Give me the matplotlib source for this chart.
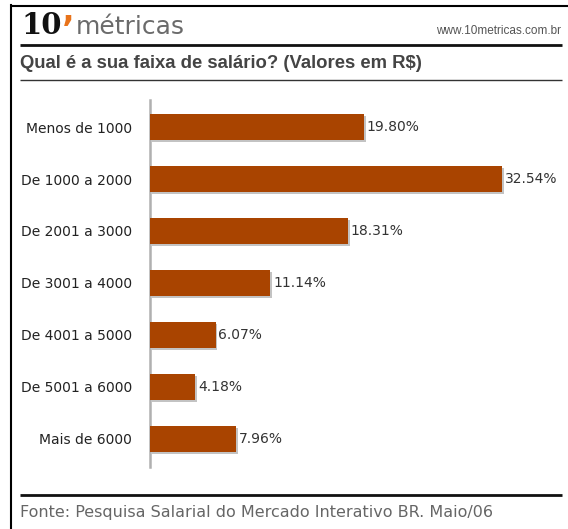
import matplotlib.pyplot as plt
import matplotlib.patheffects as pe
from matplotlib.lines import Line2D

# salary ranges and share of respondents (%)
faixas = ['Menos de 1000', 'De 1000 a 2000', 'De 2001 a 3000', 'De 3001 a 4000',
          'De 4001 a 5000', 'De 5001 a 6000', 'Mais de 6000']
percentuais = [19.80, 32.54, 18.31, 11.14, 6.07, 4.18, 7.96]

W, H = 568, 529
BAR_COLOR = '#a94400'


def fx(x):
    return x / W


def fy(y):
    return 1 - y / H


def hline(fig, y, x0, x1, color, lw):
    fig.add_artist(Line2D([fx(x0), fx(x1)], [fy(y), fy(y)], color=color, lw=lw,
                          transform=fig.transFigure, solid_capstyle='butt'))


def make_chart():
    fig = plt.figure(figsize=(W / 100, H / 100), dpi=100)
    fig.set_facecolor('white')

    # frame on the left and top
    fig.add_artist(Line2D([fx(11), fx(11)], [fy(5), 0], color='black', lw=1.5,
                          transform=fig.transFigure))
    hline(fig, 5.5, 11, W, 'black', 1.5)

    # logo
    fig.text(fx(21), fy(26), '10', fontsize=21, fontweight='black', color='#111111',
             family='DejaVu Serif', va='center', ha='left')
    fig.text(fx(62), fy(30), '\u2019', fontsize=24, fontweight='bold', color='#e8731a',
             family='DejaVu Sans', va='center', ha='left')
    fig.text(fx(76), fy(27), 'métricas', fontsize=18, color='#6b6b6b',
             family='DejaVu Sans', va='center', ha='left')
    fig.text(fx(561), fy(31), 'www.10metricas.com.br', fontsize=8.5, color='#555555',
             family='Liberation Sans', va='center', ha='right')
    hline(fig, 45, 20, 562, '#111111', 2)

    # title
    fig.text(fx(20), fy(63), 'Qual é a sua faixa de salário? (Valores em R$)',
             fontsize=13.3, fontweight='bold', color='#444444',
             family='Liberation Sans', va='center', ha='left')
    hline(fig, 80, 20, 562, '#333333', 1)

    # bar chart area: x from 150 px, y from 100 to 467 px
    ax = fig.add_axes([fx(150), fy(467), fx(561) - fx(150), (467 - 100) / H])
    pos = list(range(len(faixas)))
    bars = ax.barh(pos, percentuais, height=0.5, color=BAR_COLOR, zorder=3)
    for b in bars:
        b.set_path_effects([pe.SimplePatchShadow(offset=(1.2, -1.2), shadow_rgbFace='#888888',
                                                 alpha=0.5), pe.Normal()])
    for p, v in zip(pos, percentuais):
        ax.text(v + 0.25, p, f'{v:.2f}%', va='center', ha='left', fontsize=10,
                color='#333333')

    ax.set_xlim(0, 38)
    ax.set_ylim(6.54, -0.52)
    ax.set_yticks(pos)
    ax.set_yticklabels(faixas, fontsize=10, color='#222222')
    ax.tick_params(axis='y', length=0, pad=13)
    ax.set_xticks([])
    for s in ['top', 'right', 'bottom']:
        ax.spines[s].set_visible(False)
    ax.spines['left'].set_color('#b0b0b0')
    ax.spines['left'].set_linewidth(1.8)
    ax.set_facecolor('none')

    # footer
    hline(fig, 495, 20, 562, '#111111', 2)
    fig.text(fx(20), fy(513), 'Fonte: Pesquisa Salarial do Mercado Interativo BR. Maio/06',
             fontsize=11.5, color='#666666', family='DejaVu Sans', va='center', ha='left')

    fig.savefig('out.png', dpi=100, facecolor='white')


if __name__ == '__main__':
    make_chart()
